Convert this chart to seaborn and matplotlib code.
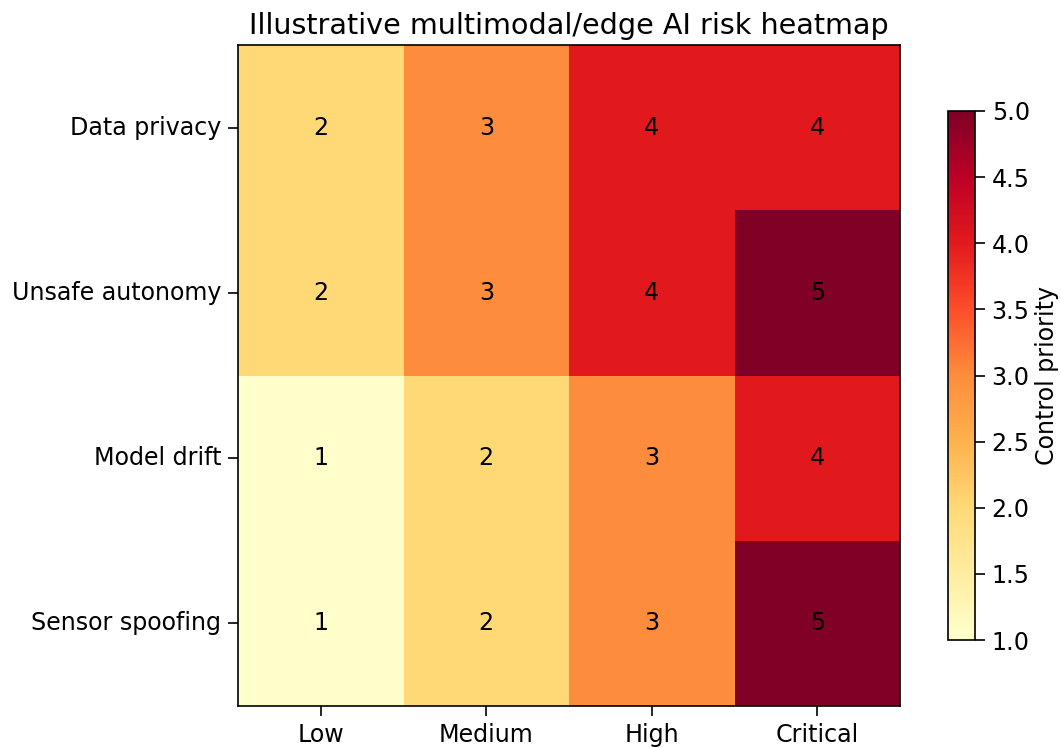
import matplotlib
matplotlib.use("Agg")
import matplotlib.pyplot as plt
import seaborn as sns
import numpy as np
import pandas as pd

risks = ["Data privacy", "Unsafe autonomy", "Model drift", "Sensor spoofing"]
levels = ["Low", "Medium", "High", "Critical"]
data_privacy = [2, 3, 4, 4]
unsafe_autonomy = [2, 3, 4, 5]
model_drift = [1, 2, 3, 4]
sensor_spoofing = [1, 2, 3, 5]
cbar_ticks = [1.0, 1.5, 2.0, 2.5, 3.0, 3.5, 4.0, 4.5, 5.0]

df = pd.DataFrame([data_privacy, unsafe_autonomy, model_drift, sensor_spoofing],
                  index=risks, columns=levels)

fig = plt.figure(figsize=(10.61, 7.47), dpi=100)
W, H = 1061, 747
ax = fig.add_axes([238 / W, (H - 706) / H, 662 / W, 661 / H])
cax = fig.add_axes([948 / W, (H - 640) / H, 27 / W, 529 / H])

sns.heatmap(df, ax=ax, cbar_ax=cax, cmap="YlOrRd", vmin=1, vmax=5,
            annot=True, fmt="d", annot_kws={"color": "black", "fontsize": 17.1})

for t in ax.texts:
    t.set_color("black")

for s in ax.spines.values():
    s.set_visible(True)
    s.set_color("black")
    s.set_linewidth(1.2)

ax.tick_params(axis="both", labelsize=17.1, length=7, width=1.2, pad=5)
ax.set_yticklabels(risks, rotation=0)
ax.set_xticklabels(levels, rotation=0)
ax.set_xlabel("")
ax.set_ylabel("")
ax.set_title("Illustrative multimodal/edge AI risk heatmap", fontsize=20.6, pad=8)

cb = ax.collections[0].colorbar
cb.set_ticks(cbar_ticks)
cb.ax.tick_params(labelsize=17.1, length=7, width=1.2, pad=5)
cb.set_label("Control priority", fontsize=17.1, labelpad=4)
cb.outline.set_visible(True)
cb.outline.set_edgecolor("black")
cb.outline.set_linewidth(1.2)

fig.savefig("out.png", dpi=100)
